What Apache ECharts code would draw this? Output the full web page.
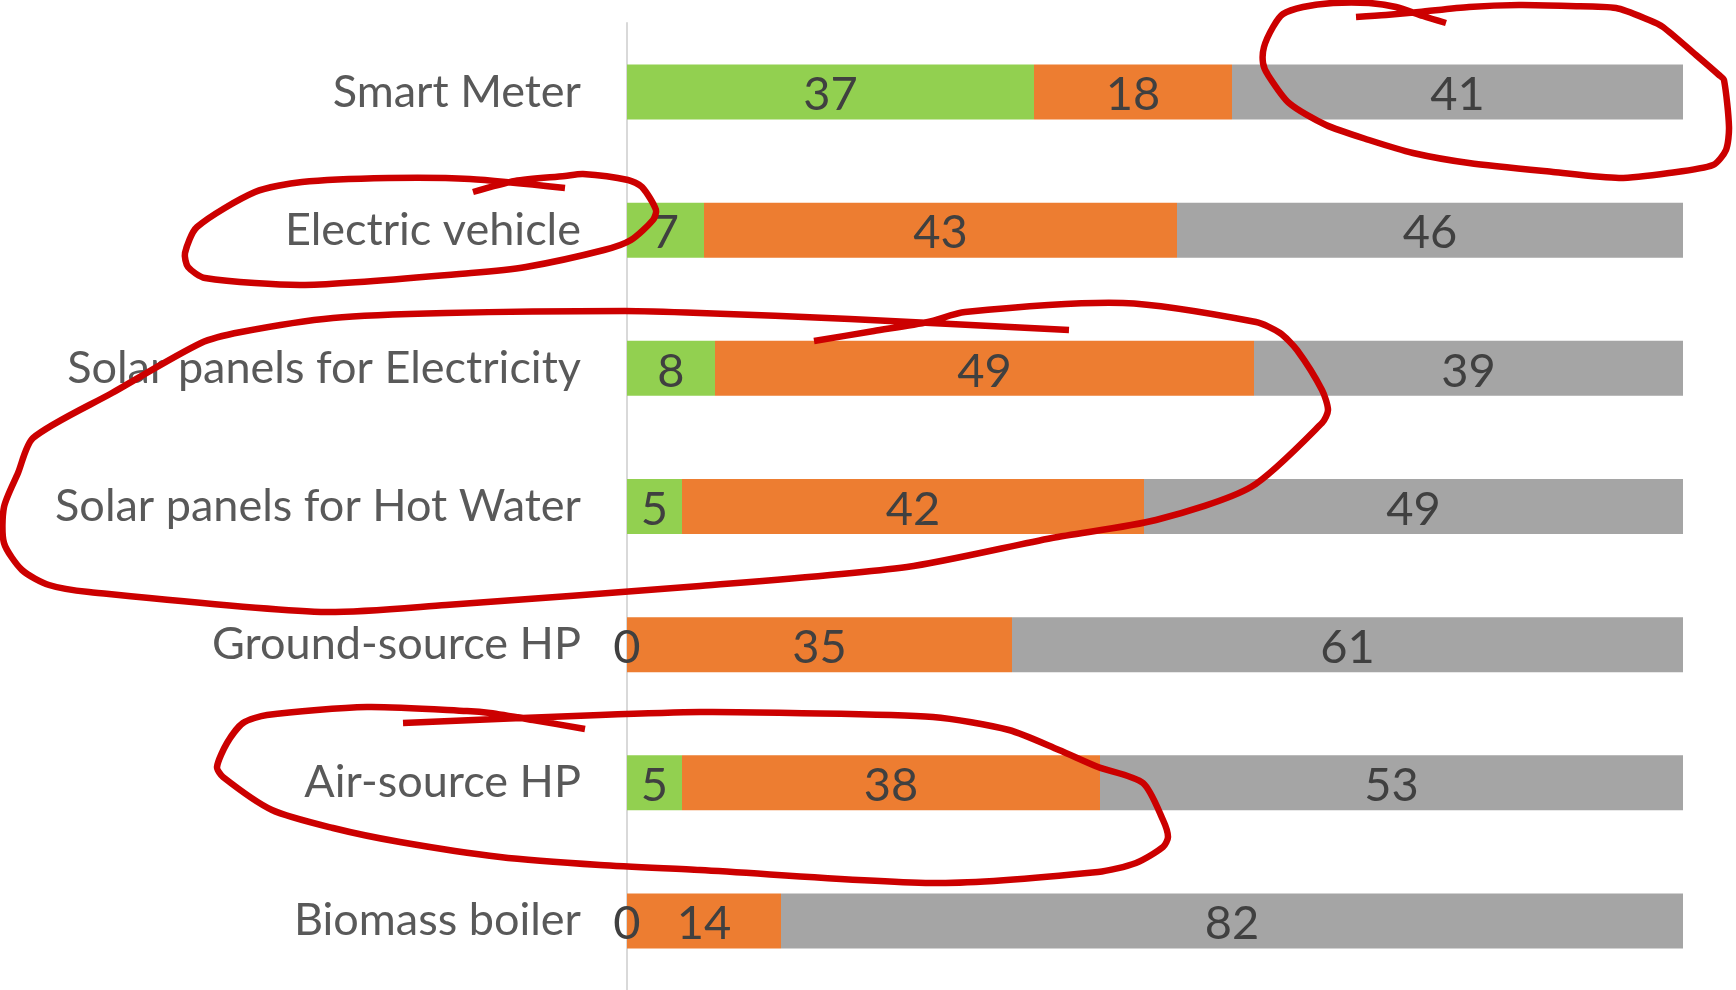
<!DOCTYPE html>
<html>
<head>
<meta charset="utf-8">
<script src="https://cdn.jsdelivr.net/npm/echarts@6/dist/echarts.min.js"></script>
<style>
html,body{margin:0;padding:0;background:#fff;}
#chart{width:1736px;height:990px;}
</style>
</head>
<body>
<div id="chart"></div>
<script>
// ---- data ----
const categories = ['Smart Meter','Electric vehicle','Solar panels for Electricity','Solar panels for Hot Water','Ground-source HP','Air-source HP','Biomass boiler'];
const greenValues  = [37, 7, 8, 5, 0, 5, 0];
const orangeValues = [18, 43, 49, 42, 35, 38, 14];
const greyValues   = [41, 46, 39, 49, 61, 53, 82];
const axisMax = 96;

// ---- hand-drawn annotation strokes (pixel paths, not data) ----
const annotationSmartMeter = [[1446,23],[1423,16],[1396,7],[1369,3],[1333,3],[1303,7],[1283,14],[1273,27],[1264,47],[1263,63],[1268,75],[1289,103],[1326,125],[1369,140],[1413,153],[1469,163],[1553,172],[1619,178],[1669,173],[1713,165],[1726,150],[1729,127],[1724,80],[1719,75],[1696,55],[1663,27],[1649,20],[1616,8],[1569,6],[1519,5],[1469,7],[1419,12],[1386,15],[1356,17]];
const annotationEV = [[473,192],[515,181],[565,176],[583,174],[628,180],[642,187],[656,210],[653,220],[631,240],[604,250],[526,267],[471,273],[305,285],[205,278],[188,267],[185,253],[197,227],[255,192],[302,182],[388,178],[470,179],[565,188]];
const annotationSolar = [[814,341],[874,331],[928,322],[965,312],[1123,303],[1256,322],[1280,333],[1297,350],[1322,390],[1328,410],[1322,423],[1251,487],[1156,520],[1052,538],[907,567],[700,586],[446,605],[321,612],[89,592],[49,585],[22,570],[4,543],[4,507],[18,473],[33,438],[112,393],[201,343],[241,332],[333,318],[446,313],[625,311],[700,313],[850,319],[1069,330]];
const annotationAir = [[585,729],[533,720],[490,713],[467,711],[367,707],[267,715],[243,723],[227,743],[217,767],[223,777],[272,810],[333,828],[400,842],[500,857],[600,865],[700,870],[937,883],[1098,872],[1136,863],[1163,847],[1168,837],[1163,820],[1143,783],[1098,767],[1059,750],[1009,730],[933,717],[791,713],[700,712],[600,715],[403,723]];

const FONT = 'Lato';
const labelStyle = {
  show: true,
  position: 'inside',
  color: '#404040',
  fontFamily: FONT,
  fontSize: 47,
  offset: [0, 3],
  formatter: p => String(p.value)
};

function barSeries(name, values, color) {
  return {
    name: name,
    type: 'bar',
    stack: 'total',
    data: values,
    barWidth: 55,
    itemStyle: { color: color },
    label: labelStyle,
    emphasis: { disabled: true }
  };
}

function stroke(points) {
  return {
    type: 'polyline',
    z: 100,
    shape: { points: points, smooth: 0.25 },
    style: { stroke: '#CC0000', lineWidth: 6.5, fill: null, lineJoin: 'round', lineCap: 'butt' },
    silent: true
  };
}

const chart = echarts.init(document.getElementById('chart'), null, { renderer: 'canvas' });
chart.setOption({
  animation: false,
  backgroundColor: '#ffffff',
  grid: { left: 627, right: 53, top: 23, bottom: -1, containLabel: false },
  xAxis: {
    type: 'value',
    min: 0,
    max: axisMax,
    show: false
  },
  yAxis: {
    type: 'category',
    data: categories,
    inverse: true,
    axisLine: { show: true, lineStyle: { color: '#D9D9D9', width: 2 } },
    axisTick: { show: false },
    axisLabel: { color: '#595959', fontFamily: FONT, fontSize: 45, margin: 46, padding: [5, 0, 0, 0] }
  },
  series: [
    barSeries('green', greenValues, '#92D050'),
    barSeries('orange', orangeValues, '#ED7D31'),
    barSeries('grey', greyValues, '#A5A5A5')
  ],
  graphic: [
    stroke(annotationSmartMeter),
    stroke(annotationEV),
    stroke(annotationSolar),
    stroke(annotationAir)
  ]
});
</script>
</body>
</html>
